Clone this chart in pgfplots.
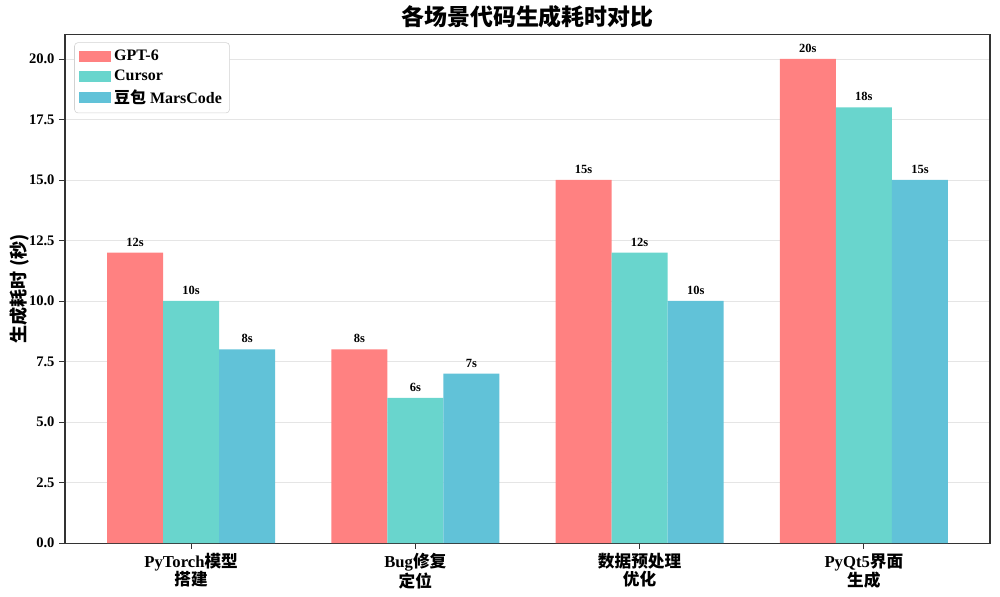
\documentclass[border=0pt]{standalone}
\usepackage{fontspec}
\setmainfont{Liberation Serif}
\newfontfamily\cjk{Noto Sans CJK SC}
\usepackage{pgfplots}
\pgfplotsset{compat=1.18}
\definecolor{cred}{HTML}{FF8181}
\definecolor{cteal}{HTML}{69D5CD}
\definecolor{cblue}{HTML}{61C2D8}
\definecolor{frame}{HTML}{333333}
\begin{document}
\begin{tikzpicture}[font=\bfseries]
\useasboundingbox (-46.8pt,-38.2pt) rectangle (673.2pt,391pt);
\begin{axis}[
    at={(0,0)}, anchor=south west,
    scale only axis, width=666pt, height=366pt,
    ybar=0pt, bar width=0.25,
    xmin=-0.5625, xmax=3.5625, ymin=0, ymax=21,
    xtick={0,1,2,3},
    xticklabels={
        {PyTorch{\cjk 模型}\\{\cjk 搭建}},
        {Bug{\cjk 修复}\\{\cjk 定位}},
        {{\cjk 数据预处理}\\{\cjk 优化}},
        {PyQt5{\cjk 界面}\\{\cjk 生成}}},
    xticklabel style={align=center, font=\bfseries\fontsize{12}{13}\selectfont},
    ytick={0,2.5,...,20},
    yticklabel style={font=\bfseries\fontsize{10.5}{12}\selectfont, /pgf/number format/.cd, fixed, fixed zerofill, precision=1, assume math mode=true},
    tick align=outside, tick pos=left,
    major tick length=4pt,
    tick style={frame, line width=0.6pt},
    axis line style={frame, line width=0.8pt},
    ymajorgrids=true,
    grid style={gray!20, line width=0.5pt},
    title={\cjk\bfseries 各场景代码生成耗时对比},
    title style={font=\bfseries\fontsize{16.5}{18}\selectfont, at={(0.5,1)}, anchor=center, yshift=7pt},
    ylabel={\cjk\bfseries 生成耗时 (秒)},
    ylabel style={font=\bfseries\fontsize{13}{15}\selectfont, yshift=-7pt},
    nodes near coords={\pgfmathprintnumber{\pgfplotspointmeta}s},
    every node near coord/.append style={font=\bfseries\fontsize{9}{10}\selectfont, black, yshift=1pt, /pgf/number format/assume math mode=true},
    legend style={at={(0.01,0.985)}, anchor=north west, draw=gray!35, rounded corners=2.5pt,
        font=\bfseries\fontsize{11.5}{13}\selectfont, cells={anchor=west}, row sep=1pt, inner sep=3.5pt},
    legend image code/.code={\fill[#1, sharp corners] (0pt,-4pt) rectangle (23pt,4pt);},
]
\addplot[fill=cred, draw=none] coordinates {(0,12) (1,8) (2,15) (3,20)};
\addplot[fill=cteal, draw=none] coordinates {(0,10) (1,6) (2,12) (3,18)};
\addplot[fill=cblue, draw=none] coordinates {(0,8) (1,7) (2,10) (3,15)};
\legend{GPT-6, Cursor, {{\cjk 豆包} MarsCode}}
\end{axis}
\end{tikzpicture}
\end{document}
